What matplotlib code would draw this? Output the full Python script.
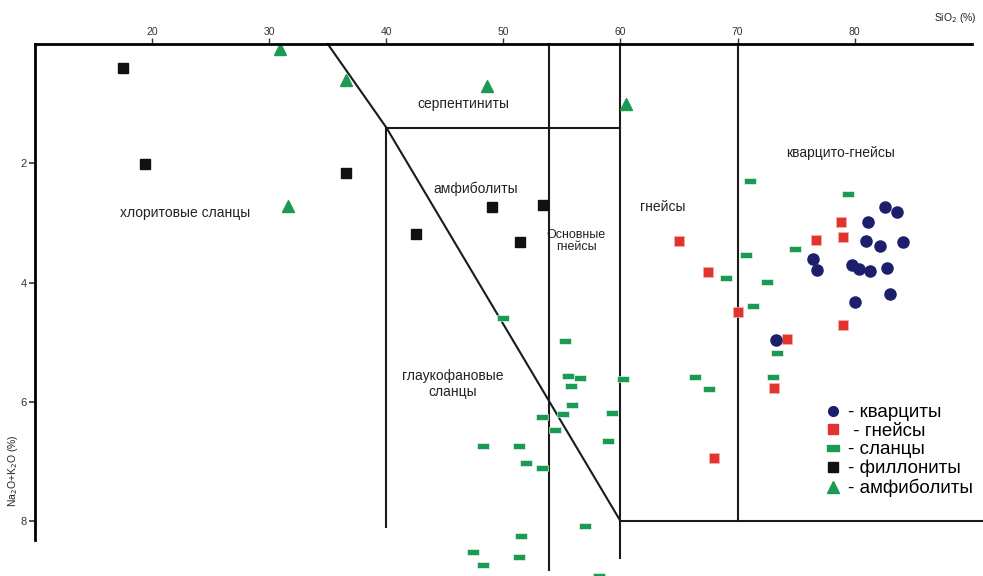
import matplotlib
matplotlib.use('Agg')
import matplotlib.pyplot as plt
from matplotlib.lines import Line2D

plt.rcParams['font.family'] = ['Liberation Sans', 'DejaVu Sans']

# SiO2 (%) / Na2O+K2O (%) values
quartzite_x = [82.6, 83.6, 81.1, 81.0, 82.2, 84.1, 76.4, 76.8, 79.8, 80.4, 81.3, 82.8, 83.0, 80.0, 73.3]
quartzite_y = [2.73, 2.82, 2.99, 3.30, 3.39, 3.32, 3.60, 3.79, 3.70, 3.78, 3.81, 3.76, 4.19, 4.33, 4.96]

gneiss_x = [65.0, 67.5, 70.0, 76.7, 78.8, 79.0, 74.2, 79.0, 73.1, 68.0]
gneiss_y = [3.30, 3.82, 4.50, 3.29, 2.98, 3.23, 4.94, 4.71, 5.76, 6.94]

schist_x = [71.1, 79.4, 74.9, 70.7, 69.0, 72.5, 71.3, 73.4, 60.2, 66.4, 67.6, 73.0,
            50.0, 55.3, 55.5, 56.5, 55.8, 55.9, 55.1, 53.3, 59.3, 54.4, 58.9,
            48.3, 51.3, 51.9, 53.3, 57.0, 51.5, 47.4, 51.3, 48.3, 58.2]
schist_y = [2.30, 2.52, 3.44, 3.53, 3.93, 3.99, 4.40, 5.18, 5.62, 5.58, 5.79, 5.58,
            4.59, 4.98, 5.57, 5.60, 5.73, 6.05, 6.20, 6.25, 6.18, 6.47, 6.65,
            6.74, 6.74, 7.03, 7.11, 8.08, 8.25, 8.51, 8.60, 8.73, 8.92]

phyllonite_x = [17.5, 19.4, 36.6, 42.5, 49.0, 53.4, 51.4]
phyllonite_y = [0.41, 2.02, 2.17, 3.19, 2.74, 2.70, 3.32]

amphibolite_x = [30.9, 36.6, 48.6, 60.5, 31.6]
amphibolite_y = [0.09, 0.61, 0.71, 1.00, 2.72]

legend_labels = ['- кварциты', ' - гнейсы', '- сланцы', '- филлониты', '- амфиболиты']

# field boundaries
diag_x = [35, 40, 60]
diag_y = [0, 1.4, 8]

navy = '#1c1f6b'
red = '#e2332e'
green = '#1a9a52'
rect = [(-1, -0.55), (1, -0.55), (1, 0.55), (-1, 0.55), (-1, -0.55)]

fig = plt.figure(figsize=(9.83, 5.76), dpi=100)
ax = fig.add_axes([0.0356, 0.0, 0.953, 0.9236])
ax.set_xlim(10, 90)
ax.set_ylim(8.92, 0)

line_kw = dict(color='#1a1a1a', lw=1.5, clip_on=False)
ax.plot(diag_x, diag_y, **line_kw)
ax.plot([40, 60], [1.4, 1.4], **line_kw)
ax.plot([40, 40], [1.4, 8.1], **line_kw)
ax.plot([53.9, 53.9], [0, 8.82], **line_kw)
ax.plot([60, 60], [0, 8.62], **line_kw)
ax.plot([70, 70], [0, 8.0], **line_kw)
ax.plot([60, 91], [8.0, 8.0], **line_kw)

ax.plot(schist_x, schist_y, ls='none', marker=rect, ms=8, color=green, mec='white', mew=0.4)
ax.plot(phyllonite_x, phyllonite_y, ls='none', marker='s', ms=6.8, color='#111111')
ax.plot(gneiss_x, gneiss_y, ls='none', marker='s', ms=7.8, color=red, mec='#f3b0a8', mew=0.5)
ax.plot(quartzite_x, quartzite_y, ls='none', marker='o', ms=8, color=navy)
ax.plot(amphibolite_x, amphibolite_y, ls='none', marker='^', ms=9, color=green)

txt_kw = dict(fontsize=10, color='#222222', ha='center', va='center')
ax.text(46.6, 1.01, 'серпентиниты', **txt_kw)
ax.text(47.6, 2.42, 'амфиболиты', **txt_kw)
ax.text(22.8, 2.84, 'хлоритовые сланцы', **txt_kw)
ax.text(56.2, 3.3, 'Основные\nгнейсы', fontsize=9, color='#222222', ha='center', va='center', linespacing=1.0)
ax.text(63.6, 2.74, 'гнейсы', **txt_kw)
ax.text(78.8, 1.82, 'кварцито-гнейсы', **txt_kw)
ax.text(45.7, 5.7, 'глаукофановые\nсланцы', fontsize=10, color='#222222', ha='center', va='center', linespacing=1.1)

# axes
for s in ['bottom', 'right']:
    ax.spines[s].set_visible(False)
ax.spines['top'].set_linewidth(2)
ax.spines['left'].set_linewidth(2)
ax.spines['left'].set_bounds(0, 8.32)
ax.xaxis.tick_top()
ax.set_xticks([20, 30, 40, 50, 60, 70, 80])
ax.set_yticks([2, 4, 6, 8])
ax.tick_params(axis='x', direction='out', length=4, width=1, pad=1, labelsize=7.5, colors='#333333')
ax.tick_params(axis='y', direction='out', length=4, width=1.2, pad=2, labelsize=8, colors='#333333')
ax.text(0.982, 1.049, 'SiO$_2$ (%)', transform=ax.transAxes, fontsize=7.5, ha='center', va='center', color='#222222')
ax.text(-0.0235, 0.199, 'Na$_2$O+K$_2$O (%)', transform=ax.transAxes, fontsize=7.5, rotation=90,
        ha='center', va='center', color='#222222')

handles = [
    Line2D([], [], ls='none', marker='o', ms=7, color=navy),
    Line2D([], [], ls='none', marker='s', ms=7, color=red),
    Line2D([], [], ls='none', marker=rect, ms=8, color=green),
    Line2D([], [], ls='none', marker='s', ms=6.5, color='#111111'),
    Line2D([], [], ls='none', marker='^', ms=8, color=green),
]
ax.legend(handles, legend_labels, loc='upper left', bbox_to_anchor=(0.8315, 0.341), frameon=False,
          fontsize=13.5, handlelength=1, handletextpad=0.3, labelspacing=0.08, borderpad=0)

fig.savefig('out.png', dpi=100)
